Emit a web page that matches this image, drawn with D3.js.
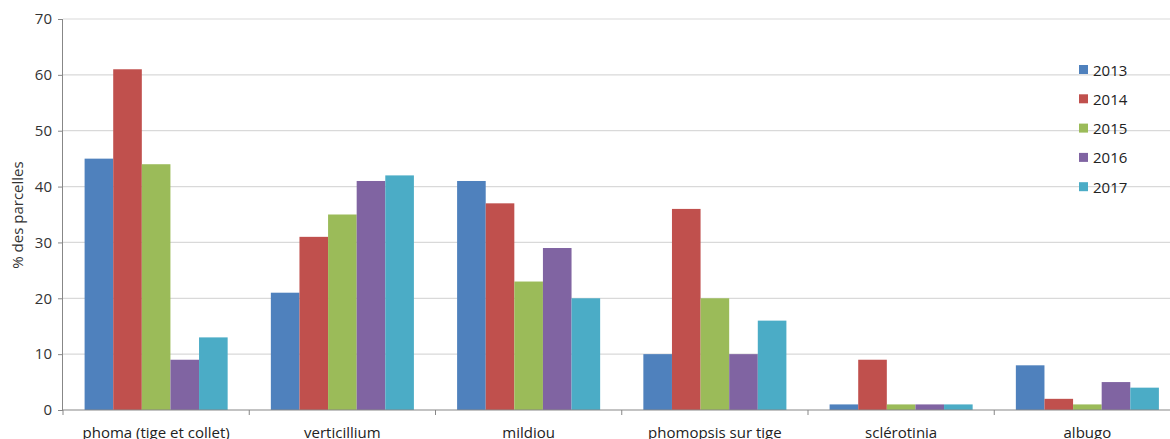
<!DOCTYPE html>
<html><head><meta charset="utf-8">
<script src="https://cdn.jsdelivr.net/npm/d3@7"></script>
<style>body{margin:0;background:#fff}svg{display:block}</style>
</head><body>
<svg id="c" width="1170" height="439"></svg>
<script>
const categories = ["phoma (tige et collet)", "verticillium", "mildiou", "phomopsis sur tige", "sclérotinia", "albugo"];
const years = ["2013", "2014", "2015", "2016", "2017"];
const v2013 = [45, 21, 41, 10, 1, 8];
const v2014 = [61, 31, 37, 36, 9, 2];
const v2015 = [44, 35, 23, 20, 1, 1];
const v2016 = [9, 41, 29, 10, 1, 5];
const v2017 = [13, 42, 20, 16, 1, 4];
const yTicks = [0, 10, 20, 30, 40, 50, 60, 70];
const colors = ["#4F81BD", "#C0504D", "#9BBB59", "#8064A2", "#4BACC6"];
const series = [v2013, v2014, v2015, v2016, v2017];

(function(){
const svg = d3.select("#c");
const font = "'Open Sans', 'Liberation Sans', sans-serif";
const mLeft = 63, mRight = 1180.5, mTop = 19, mBottom = 410;

const x = d3.scaleBand().domain(categories).range([mLeft, mRight]).padding(0);
const xs = d3.scaleBand().domain(years).range([0, x.bandwidth()]).paddingOuter(0.755).paddingInner(0);
const y = d3.scaleLinear().domain([0, 70]).range([mBottom, mTop]);

svg.append("g").selectAll("line").data(yTicks.slice(1)).join("line")
  .attr("x1", mLeft).attr("x2", 1170).attr("y1", d => y(d)).attr("y2", d => y(d))
  .attr("stroke", "#D9D9D9").attr("stroke-width", 1.2);

const rows = categories.map((c, i) => ({c, vals: series.map((s, k) => ({year: years[k], v: s[i], k}))}));
svg.append("g").selectAll("g").data(rows).join("g")
  .attr("transform", d => `translate(${x(d.c)},0)`)
  .selectAll("rect").data(d => d.vals).join("rect")
  .attr("x", d => xs(d.year)).attr("width", xs.bandwidth())
  .attr("y", d => y(d.v)).attr("height", d => y(0) - y(d.v))
  .attr("fill", d => colors[d.k]);

const yAxis = d3.axisLeft(y).tickValues(yTicks).tickSize(5).tickPadding(6);
const gy = svg.append("g").attr("transform", `translate(${mLeft},0)`).call(yAxis);
gy.select(".domain").attr("stroke", "#878787").attr("d", `M-0.5,${mTop}V${mBottom}`);
gy.selectAll(".tick line").attr("stroke", "#878787");
gy.selectAll("text").attr("font-family", font).attr("font-size", 15).attr("fill", "#333");

svg.append("line").attr("x1", mLeft).attr("x2", 1170).attr("y1", mBottom).attr("y2", mBottom)
  .attr("stroke", "#878787").attr("stroke-width", 1.2);
svg.append("g").selectAll("line").data(categories).join("line")
  .attr("x1", d => x(d)).attr("x2", d => x(d)).attr("y1", mBottom).attr("y2", mBottom + 5)
  .attr("stroke", "#878787");
svg.append("g").selectAll("text").data(categories).join("text")
  .attr("x", d => x(d) + x.bandwidth() / 2).attr("y", 438)
  .attr("text-anchor", "middle").attr("font-family", font).attr("font-size", 15).attr("fill", "#222")
  .text(d => d);

svg.append("text").attr("transform", "translate(23,215) rotate(-90)")
  .attr("text-anchor", "middle").attr("font-family", font).attr("font-size", 15).attr("fill", "#333")
  .text("% des parcelles");

const lg = svg.append("g").selectAll("g").data(years).join("g")
  .attr("transform", (d, i) => `translate(1079,${70 + i * 29.3})`);
lg.append("rect").attr("x", 0).attr("y", -5).attr("width", 9).attr("height", 9).attr("fill", (d, i) => colors[i]);
lg.append("text").attr("x", 14).attr("y", 5.5).attr("font-family", font).attr("font-size", 15).attr("fill", "#222").text(d => d);
})();
</script>
</body></html>
